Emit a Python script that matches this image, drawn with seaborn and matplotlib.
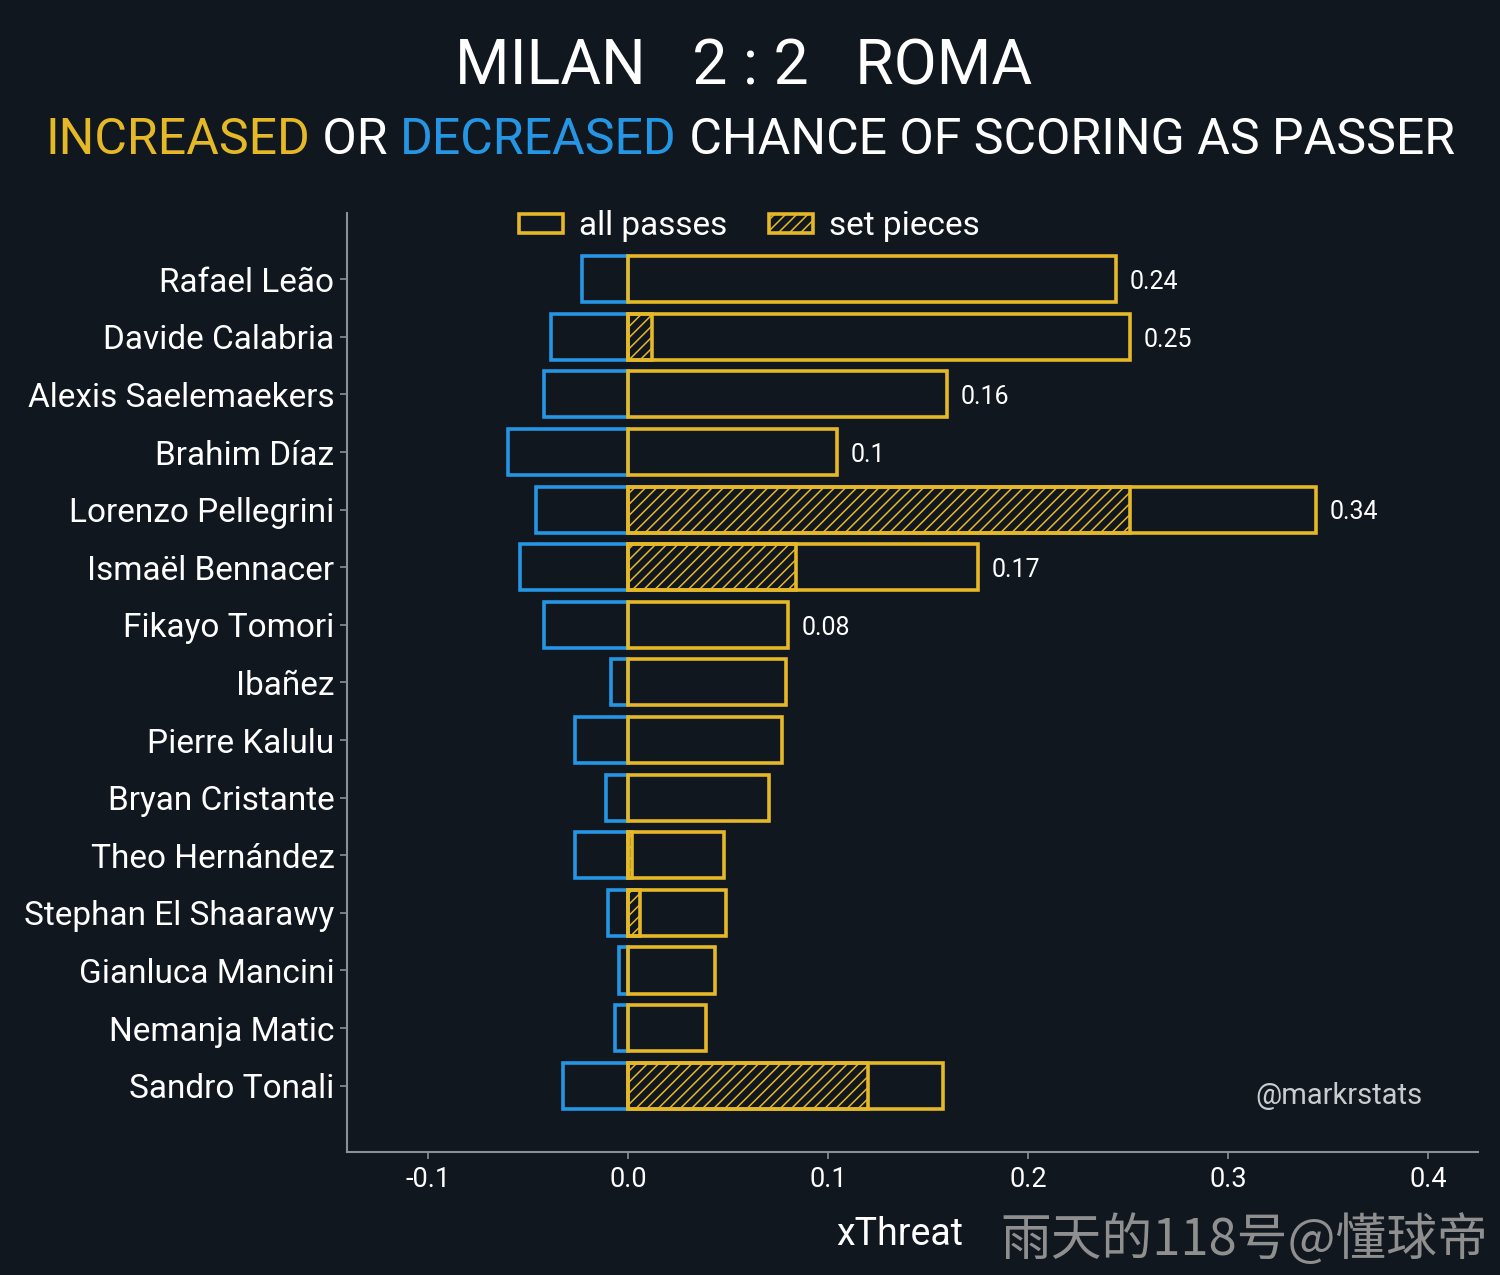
import numpy as np
import pandas as pd
import matplotlib
matplotlib.use("Agg")
import matplotlib.pyplot as plt
import seaborn as sns
from matplotlib.patches import Patch

players = ["Rafael Leão", "Davide Calabria", "Alexis Saelemaekers", "Brahim Díaz",
           "Lorenzo Pellegrini", "Ismaël Bennacer", "Fikayo Tomori", "Ibañez",
           "Pierre Kalulu", "Bryan Cristante", "Theo Hernández", "Stephan El Shaarawy",
           "Gianluca Mancini", "Nemanja Matic", "Sandro Tonali"]
increased = [0.244, 0.251, 0.1595, 0.1045, 0.344, 0.175, 0.080, 0.079,
             0.077, 0.0705, 0.048, 0.049, 0.0435, 0.039, 0.1575]
decreased = [-0.023, -0.0385, -0.042, -0.060, -0.046, -0.054, -0.042, -0.0085,
             -0.0265, -0.011, -0.0265, -0.010, -0.0045, -0.0065, -0.0325]
set_pieces = [0.0, 0.012, 0.0, 0.0, 0.251, 0.084, 0.0, 0.0,
              0.0, 0.0, 0.002, 0.006, 0.0, 0.0, 0.12]
value_labels = ["0.24", "0.25", "0.16", "0.1", "0.34", "0.17", "0.08", "", "", "", "", "", "", "", ""]

bg = "#10171e"
gold = "#e5b827"
blue = "#2596e4"
grey = "#8a9196"

df = pd.DataFrame({"player": players, "inc": increased, "dec": decreased, "sp": set_pieces})

sns.set_style("dark")
plt.rcParams["font.family"] = ["Roboto", "DejaVu Sans"]
plt.rcParams["hatch.color"] = gold
plt.rcParams["hatch.linewidth"] = 1.1

fig = plt.figure(figsize=(15, 12.75), dpi=100, facecolor=bg)
ax = fig.add_axes([0.2313, 0.0965, 0.754, 0.7365])
ax.set_facecolor(bg)

sns.barplot(data=df, y="player", x="dec", orient="h", fill=False, color=blue,
            linewidth=2.6, width=0.8, errorbar=None, ax=ax)
n0 = len(ax.patches)
sns.barplot(data=df, y="player", x="sp", orient="h", fill=False, color=gold,
            linewidth=2.6, width=0.8, errorbar=None, hatch="///", ax=ax)
n1 = len(ax.patches)
sns.barplot(data=df, y="player", x="inc", orient="h", fill=False, color=gold,
            linewidth=2.6, width=0.8, errorbar=None, ax=ax)

for i, p in enumerate(ax.patches):
    p.set_facecolor("none")
    p.set_edgecolor(blue if i < n0 else gold)
    if n0 <= i < n1 and p.get_width() == 0:
        p.set_visible(False)

for i, lab in enumerate(value_labels):
    if lab:
        ax.text(increased[i] + 0.007, i + 0.05, lab, va="center", ha="left",
                color="white", fontsize=18)

ax.set_xlim(-0.1405, 0.425)
ax.set_ylim(len(players) - 1 + 1.15, -1.15)
ax.set_xticks([-0.1, 0.0, 0.1, 0.2, 0.3, 0.4])
ax.set_xticklabels(["-0.1", "0.0", "0.1", "0.2", "0.3", "0.4"])
ax.set_ylabel("")
ax.set_xlabel("xThreat", color="white", fontsize=27)
ax.xaxis.set_label_coords(0.489, -0.068)
ax.grid(False)

for s in ["top", "right"]:
    ax.spines[s].set_visible(False)
for s in ["left", "bottom"]:
    ax.spines[s].set_visible(True)
    ax.spines[s].set_color(grey)
    ax.spines[s].set_linewidth(1.5)

ax.tick_params(axis="y", colors=grey, labelcolor="white", labelsize=24,
               length=5, width=1.2, left=True, pad=4)
ax.tick_params(axis="x", colors=grey, labelcolor="white", labelsize=19.5,
               length=5, width=1.2, bottom=True, pad=5)

handles = [Patch(facecolor="none", edgecolor=gold, linewidth=2.6, label="all passes"),
           Patch(facecolor="none", edgecolor=gold, linewidth=2.6, hatch="///", label="set pieces")]
leg = ax.legend(handles=handles, loc="upper center", bbox_to_anchor=(0.356, 1.035),
                ncol=2, frameon=False, fontsize=24, labelcolor="white",
                handlelength=1.3, handleheight=0.52, handletextpad=0.5, columnspacing=1.25)

ax.text(0.951, 0.0596, "@markrstats", transform=ax.transAxes, ha="right", va="center",
        color="#c9cccf", fontsize=21)

fig.text(0.4955, 0.947, "MILAN   2 : 2   ROMA", ha="center", va="center",
         color="white", fontsize=45)

# coloured subtitle built from pieces
parts = [("INCREASED", gold), (" OR ", "white"), ("DECREASED", blue),
         (" CHANCE OF SCORING AS PASSER", "white")]
renderer = fig.canvas.get_renderer()
pieces = []
widths = []
for s, c in parts:
    t = fig.text(0, 0.890, s, ha="left", va="center", color=c, fontsize=36)
    pieces.append(t)
    widths.append(t.get_window_extent(renderer).width)
W = fig.get_figwidth() * fig.dpi
x = (W - sum(widths)) / 2
for t, w in zip(pieces, widths):
    t.set_x(x / W)
    x += w

fig.text(0.992, 0.027, "雨天的118号@懂球帝", ha="right", va="center", color="#8f8f8f",
         fontsize=36.5, family=["Noto Sans CJK SC", "DejaVu Sans"])

fig.savefig("out.png", dpi=100, facecolor=bg)
